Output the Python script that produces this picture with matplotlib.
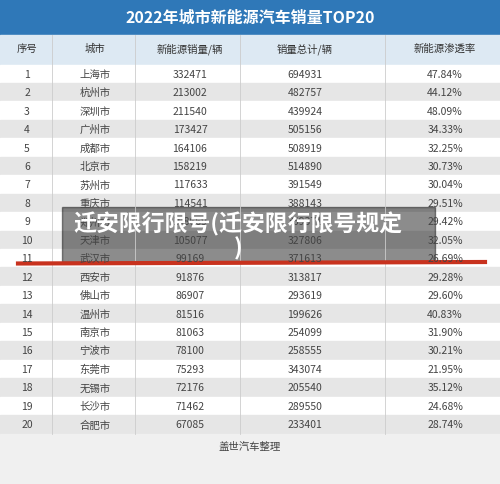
import matplotlib
matplotlib.use("Agg")
import matplotlib.pyplot as plt
from matplotlib.patches import Rectangle

plt.rcParams['font.family'] = ['Noto Sans CJK SC', 'DejaVu Sans']

title = "2022年城市新能源汽车销量TOP20"
headers = ["序号", "城市", "新能源销量/辆", "销量总计/辆", "新能源渗透率"]
ranks = list(range(1, 21))
cities = ["上海市", "杭州市", "深圳市", "广州市", "成都市", "北京市", "苏州市", "重庆市", "郑州市", "天津市",
          "武汉市", "西安市", "佛山市", "温州市", "南京市", "宁波市", "东莞市", "无锡市", "长沙市", "合肥市"]
nev_sales = [332471, 213002, 211540, 173427, 164106, 158219, 117633, 114541, 108669, 105077,
             99169, 91876, 86907, 81516, 81063, 78100, 75293, 72176, 71462, 67085]
total_sales = [694931, 482757, 439924, 505156, 508919, 514890, 391549, 388143, 369371, 327806,
               371613, 313817, 293619, 199626, 254099, 258555, 343074, 205540, 289550, 233401]
penetration = ["47.84%", "44.12%", "48.09%", "34.33%", "32.25%", "30.73%", "30.04%", "29.51%", "29.42%", "32.05%",
               "26.69%", "29.28%", "29.60%", "40.83%", "31.90%", "30.21%", "21.95%", "35.12%", "24.68%", "28.74%"]
footer = "盖世汽车整理"
overlay = "迁安限行限号(迁安限行限号规定\n)"

fig = plt.figure(figsize=(5, 4.85), dpi=100)
ax = fig.add_axes([0, 0, 1, 1])
ax.set_xlim(0, 500); ax.set_ylim(485, 0); ax.axis('off')
ax.add_patch(Rectangle((0, 0), 500, 485, color='#f4f4f4'))
ax.add_patch(Rectangle((0, 0), 500, 36, color='#2f78b8'))
ax.text(250, 18, title, color='white', fontsize=11.5, fontweight='bold', ha='center', va='center')
top = 65.5; pitch = 18.45
ax.add_patch(Rectangle((0, 36), 500, top - 36, color='#dde9f3'))
xs = [27, 95, 190, 305, 445]
for x, h in zip(xs, headers):
    ax.text(x, 49, h, fontsize=7.5, ha='center', va='center', color='#333333')
for i in range(20):
    y0 = top + i * pitch
    ax.add_patch(Rectangle((0, y0), 500, pitch, color='#ffffff' if i % 2 == 0 else '#e6e6e6'))
    yc = y0 + pitch / 2
    vals = [str(ranks[i]), cities[i], str(nev_sales[i]), str(total_sales[i]), penetration[i]]
    for x, v in zip(xs, vals):
        ax.text(x, yc, v, fontsize=7.5, ha='center', va='center', color='#444444')
for vx in [52, 135, 240, 385]:
    ax.plot([vx, vx], [36, top + 20 * pitch], color='#cccccc', lw=0.6)
ax.add_patch(Rectangle((0, top + 20 * pitch), 500, 485 - top - 20 * pitch, color='#f0f0f0'))
ax.text(250, 447, footer, fontsize=7.5, ha='center', va='center', color='#444444')
ax.plot([18, 485], [264.5, 263], color='#c8321e', lw=3)
ax.add_patch(Rectangle((62, 208), 373, 55, color='black', alpha=0.45))
ax.text(238, 236, overlay, color='white', fontsize=16.5, fontweight='bold', ha='center', va='center',
        multialignment='center', linespacing=1.05)
fig.savefig('out.png', dpi=100)
